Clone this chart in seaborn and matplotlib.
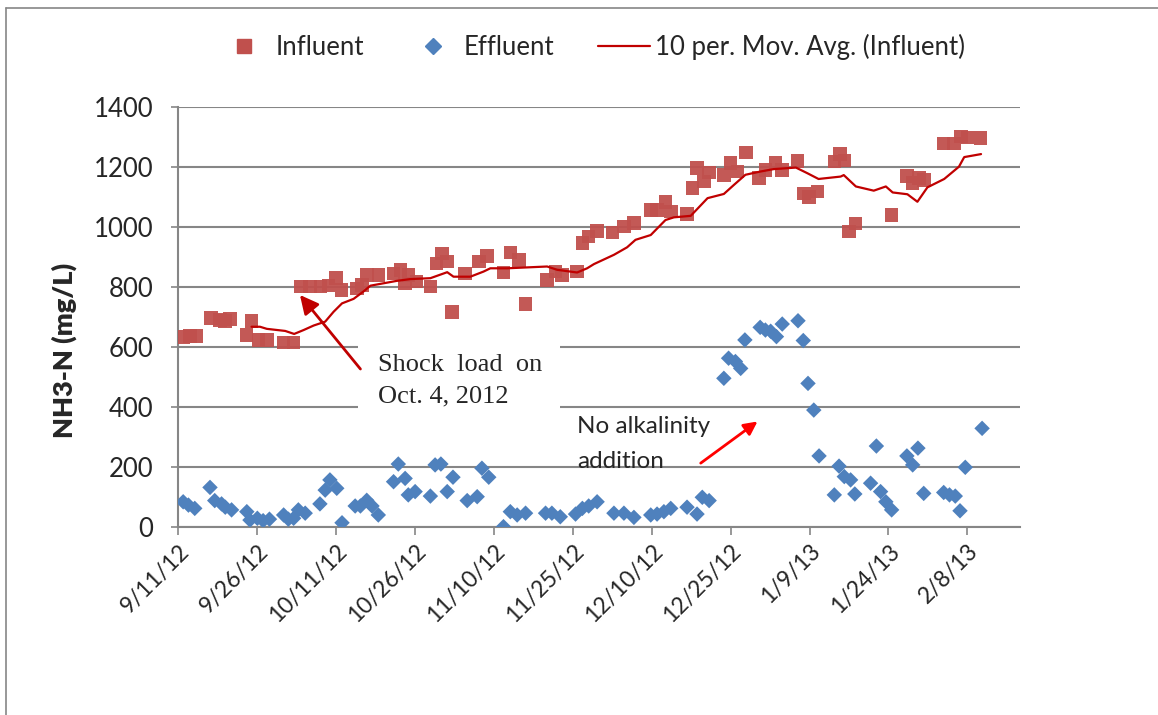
import pandas as pd
import matplotlib
matplotlib.use("Agg")
import matplotlib.pyplot as plt
import seaborn as sns
from matplotlib.lines import Line2D
from matplotlib.patches import Rectangle

# days counted from 9/11/12
start = pd.Timestamp("2012-09-11")

influent_day = [1.0, 2.2, 3.4, 6.2, 7.9, 8.9, 9.8, 12.9, 13.9, 15.2, 16.8, 20.0, 21.9,
                23.3, 25.0, 27.0, 28.5, 30.0, 31.0, 33.9, 34.9, 35.8, 38.0, 40.9, 42.2,
                43.1, 43.7, 45.3, 47.9, 49.1, 50.1, 51.1, 52.0, 54.5, 57.1, 58.7, 61.8,
                63.1, 64.7, 66.0, 70.1, 71.7, 72.9, 75.8, 76.8, 78.0, 79.6, 82.5, 84.7,
                86.6, 89.8, 91.0, 92.6, 93.6, 96.7, 97.7, 98.6, 99.9, 100.9, 103.7, 105.0,
                106.3, 107.9, 110.4, 111.6, 113.5, 114.8, 117.7, 118.9, 119.9, 121.5, 124.7,
                125.8, 126.6, 127.5, 128.7, 135.6, 138.5, 139.6, 140.8, 141.8, 145.5, 147.5,
                148.8, 150.0, 152.5]
influent_val = [632, 636, 637, 697, 690, 686, 692, 640, 687, 623, 623, 614, 615,
                801, 801, 801, 804, 829, 790, 795, 806, 840, 840, 845, 857,
                812, 840, 818, 801, 878, 912, 885, 717, 845, 884, 903, 848,
                914, 890, 743, 823, 851, 840, 851, 946, 968, 987, 981, 1001,
                1014, 1057, 1057, 1084, 1051, 1043, 1129, 1196, 1151, 1181, 1174, 1213,
                1185, 1248, 1163, 1190, 1213, 1190, 1220, 1112, 1099, 1118, 1218,
                1243, 1221, 984, 1012, 1040, 1170, 1146, 1163, 1157, 1279, 1279,
                1301, 1299, 1296]

effluent_day = [0.9, 1.9, 3.1, 6.0, 6.9, 8.2, 8.9, 10.1, 13.0, 13.6, 15.0, 16.1, 17.3,
                20.0, 20.9, 21.9, 22.8, 24.1, 26.9, 27.9, 28.8, 30.1, 31.1, 33.6, 34.6,
                35.8, 36.8, 38.0, 40.9, 41.8, 43.1, 43.7, 45.0, 47.9, 48.8, 49.9, 51.1,
                52.2, 54.9, 56.8, 57.7, 59.0, 61.8, 63.1, 64.4, 66.0, 69.8, 71.0, 72.6,
                75.5, 76.8, 78.0, 79.6, 82.8, 84.7, 86.6, 89.8, 91.0, 92.3, 93.6, 96.7,
                98.6, 99.6, 100.9, 103.7, 104.6, 105.9, 106.9, 107.7, 110.6, 111.6, 112.6,
                113.7, 114.8, 117.8, 118.8, 119.7, 120.8, 121.8, 124.7, 125.6, 126.6, 127.8,
                128.6, 131.6, 132.7, 133.5, 134.5, 135.6, 138.5, 139.6, 140.6, 141.7, 145.5,
                146.6, 147.7, 148.6, 149.6, 152.8]
effluent_val = [83, 72, 61, 131, 87, 76, 65, 56, 50, 22, 28, 20, 25,
                39, 25, 28, 56, 45, 76, 122, 156, 128, 13, 69, 69,
                88, 69, 39, 150, 209, 161, 106, 117, 102, 206, 209, 117,
                165, 87, 100, 195, 165, 0, 50, 39, 45, 45, 45, 33,
                42, 61, 69, 83, 45, 45, 31, 39, 42, 50, 61, 65,
                42, 98, 87, 495, 562, 551, 528, 623, 665, 656, 652,
                634, 676, 687, 621, 478, 389, 236, 106, 202, 167, 156,
                109, 145, 269, 117, 83, 56, 236, 206, 262, 111, 114,
                106, 102, 53, 198, 328]

# 10 per. moving average of influent, as drawn
mavg_day = [13.9, 15.5, 16.8, 20.3, 22.0, 23.8, 25.7, 27.9, 29.5, 31.1, 33.3, 35.2,
            36.5, 39.0, 41.5, 44.1, 47.9, 51.1, 52.3, 55.5, 58.0, 59.3, 62.5, 70.1,
            72.0, 75.8, 77.7, 79.0, 82.8, 85.3, 86.9, 89.8, 92.6, 94.2, 97.4, 100.6,
            103.7, 105.6, 107.8, 110.7, 113.2, 117.4, 119.6, 121.7, 125.9, 126.5, 128.8,
            132.2, 134.5, 135.8, 138.6, 140.5, 142.4, 145.6, 148.4, 149.4, 152.6]
mavg_val = [667, 667, 660, 653, 643, 656, 671, 684, 717, 745, 760, 785,
            804, 812, 820, 826, 829, 849, 834, 834, 851, 862, 862, 868,
            857, 848, 862, 876, 907, 932, 957, 973, 1023, 1032, 1037, 1096,
            1110, 1140, 1174, 1185, 1193, 1198, 1179, 1160, 1168, 1173, 1135,
            1121, 1135, 1115, 1109, 1084, 1132, 1160, 1201, 1233, 1243]

tick_labels = ["9/11/12", "9/26/12", "10/11/12", "10/26/12", "11/10/12", "11/25/12",
               "12/10/12", "12/25/12", "1/9/13", "1/24/13", "2/8/13"]

sns.set_theme(style="white")
plt.rcParams["font.family"] = ["Lato", "DejaVu Sans"]

inf = pd.DataFrame({"date": start + pd.to_timedelta(influent_day, unit="D"), "val": influent_val})
eff = pd.DataFrame({"date": start + pd.to_timedelta(effluent_day, unit="D"), "val": effluent_val})
mav = pd.DataFrame({"date": start + pd.to_timedelta(mavg_day, unit="D"), "val": mavg_val})

fig = plt.figure(figsize=(11.58, 7.15), dpi=100)
ax = fig.add_axes([0.1541, 0.2634, 0.7267, 0.5869])

red = "#C0504D"
blue = "#4F81BD"
grey = "#868686"

sns.scatterplot(data=inf, x="date", y="val", marker="s", s=95, color=red,
                edgecolor="none", linewidth=0, alpha=0.95, ax=ax, zorder=3)
sns.scatterplot(data=eff, x="date", y="val", marker="D", s=62, color=blue,
                edgecolor="none", linewidth=0, ax=ax, zorder=3)
sns.lineplot(data=mav, x="date", y="val", color="#C00000", lw=1.6, ax=ax, zorder=4)

ax.set_xlim(start, start + pd.Timedelta(days=160))
ax.set_ylim(0, 1400)
ax.set_yticks(range(0, 1401, 200))
ax.set_xticks(pd.date_range(start, periods=len(tick_labels), freq="15D"))
ax.set_xticklabels(tick_labels, rotation=45, ha="right", rotation_mode="anchor")

ax.yaxis.grid(True, color=grey, lw=1.5)
ax.xaxis.grid(False)
ax.set_axisbelow(True)
for s in ["top", "right"]:
    ax.spines[s].set_visible(False)
for s in ["left", "bottom"]:
    ax.spines[s].set_color(grey)
    ax.spines[s].set_linewidth(1.5)

ax.tick_params(axis="y", left=True, direction="out", length=5, width=1.2,
               color=grey, pad=13, labelsize=18.5)
ax.tick_params(axis="x", bottom=True, direction="out", length=6, width=1.2,
               color=grey, pad=4, labelsize=16.5)

ax.set_xlabel("")
ax.set_ylabel("NH3-N (mg/L)", fontsize=19.5, fontweight="heavy")
ax.yaxis.set_label_coords(-0.1206, 0.421)

# text box over gridlines
ax.add_patch(Rectangle((0.2133, 0.2733), 0.2400, 0.1715, transform=ax.transAxes,
                       facecolor="white", edgecolor="none", zorder=5))
ax.text(start + pd.Timedelta(days=38.0), 540, "Shock  load  on", fontsize=19,
        family="Liberation Serif", va="center", ha="left", zorder=6)
ax.text(start + pd.Timedelta(days=38.0), 434, "Oct. 4, 2012", fontsize=19,
        family="Liberation Serif", va="center", ha="left", zorder=6)
ax.annotate("", xy=(start + pd.Timedelta(days=23.1), 773),
            xytext=(start + pd.Timedelta(days=34.6), 526),
            arrowprops=dict(arrowstyle="-|>", color="#C00000", lw=2,
                            mutation_scale=28, shrinkA=0, shrinkB=0), zorder=6)

ax.text(start + pd.Timedelta(days=75.8), 333, "No alkalinity", fontsize=17.5,
        va="center", ha="left", zorder=6)
ax.text(start + pd.Timedelta(days=75.8), 216, "addition", fontsize=17.5,
        va="center", ha="left", zorder=6)
ax.annotate("", xy=(start + pd.Timedelta(days=110.1), 351),
            xytext=(start + pd.Timedelta(days=99.3), 212),
            arrowprops=dict(arrowstyle="-|>", color="#FF0000", lw=2,
                            mutation_scale=20, shrinkA=0, shrinkB=0), zorder=6)

handles = [
    Line2D([], [], marker="s", ls="none", color=red, markersize=10),
    Line2D([], [], marker="D", ls="none", color=blue, markersize=8),
    Line2D([], [], color="#C00000", lw=1.6),
]
fig.legend(handles, ["Influent", "Effluent", "10 per. Mov. Avg. (Influent)"],
           loc="center", bbox_to_anchor=(0.511, 0.934), ncol=3, frameon=False,
           fontsize=18.5, handlelength=2.0, columnspacing=1.7, handletextpad=0.2)

# chart border
fig.add_artist(Line2D([0.0052, 0.0052], [0, 0.9888], color=grey, lw=1.2,
                      transform=fig.transFigure))
fig.add_artist(Line2D([0.0052, 1.0], [0.9888, 0.9888], color=grey, lw=1.2,
                      transform=fig.transFigure))

fig.savefig("out.png", dpi=100)
